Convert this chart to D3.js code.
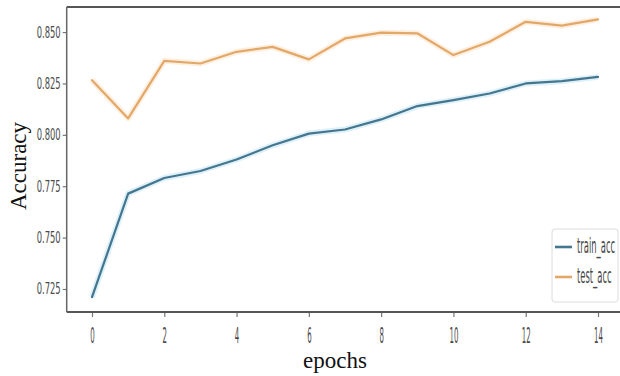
<!DOCTYPE html>
<html>
<head>
<meta charset="utf-8">
<script src="https://cdn.jsdelivr.net/npm/d3@7/dist/d3.min.js"></script>
<style>
html,body{margin:0;padding:0;background:#fff;overflow:hidden;}
svg{display:block;}
</style>
</head>
<body>
<svg id="chart" width="620" height="376"></svg>
<script>
const epochs = [0,1,2,3,4,5,6,7,8,9,10,11,12,13,14];
const trainAcc = [0.721,0.7714,0.779,0.7824,0.788,0.7949,0.8006,0.8026,0.8075,0.814,0.8169,0.8201,0.825,0.8261,0.8282];
const testAcc  = [0.8266,0.808,0.836,0.8347,0.8404,0.8428,0.8367,0.8469,0.8497,0.8494,0.8388,0.8453,0.855,0.8531,0.8562];
const xTicks = [0,2,4,6,8,10,12,14];
const yTicks = [0.725,0.750,0.775,0.800,0.825,0.850];
const seriesNames = ["train_acc","test_acc"];
const xLabel = "epochs";
const yLabel = "Accuracy";

const svg = d3.select("#chart");
const L = 66.7, R = 623.3, T = 7, B = 312;
const x = d3.scaleLinear().domain([-0.7, 14.7]).range([L, R]);
const y = d3.scaleLinear().domain([0.7138, 0.8622]).range([B, T]);

const tickColor = "#4a4a4a";

// Y axis
const yAxis = svg.append("g").attr("transform", `translate(${L},0)`)
  .call(d3.axisLeft(y).tickValues(yTicks).tickFormat(d3.format(".3f")).tickSize(4).tickPadding(5));
yAxis.select(".domain").remove();
yAxis.selectAll(".tick line").attr("stroke", "#777").attr("stroke-width", 1.2);
yAxis.selectAll(".tick text")
  .attr("x", null).attr("dy", null)
  .attr("transform", "translate(-6,5) scale(0.6,1.1)")
  .attr("font-family", "DejaVu Sans").attr("font-size", 14)
  .attr("fill", tickColor).attr("text-anchor", "end");

// X axis
const xAxis = svg.append("g").attr("transform", `translate(0,${B})`)
  .call(d3.axisBottom(x).tickValues(xTicks).tickFormat(d3.format("d")).tickSize(5).tickPadding(5));
xAxis.select(".domain").remove();
xAxis.selectAll(".tick line").attr("stroke", "#777").attr("stroke-width", 1.2);
xAxis.selectAll(".tick text")
  .attr("y", null).attr("dy", null)
  .attr("transform", "translate(0,31) scale(0.5,1.5)")
  .attr("font-family", "DejaVu Sans").attr("font-size", 14)
  .attr("fill", tickColor).attr("text-anchor", "middle");

// Lines
const line = d3.line().x((d,i) => x(epochs[i])).y(d => y(d));
const colors = ["#44768f", "#e3a867"];
const halos = ["#bfe3f2", "#fbe2c6"];
[trainAcc, testAcc].forEach((s, k) => {
  svg.append("path").datum(s).attr("d", line).attr("fill", "none")
    .attr("stroke", halos[k]).attr("stroke-width", 6).attr("stroke-opacity", 0.5)
    .attr("stroke-linejoin", "round");
  svg.append("path").datum(s).attr("d", line).attr("fill", "none")
    .attr("stroke", colors[k]).attr("stroke-width", 2.2)
    .attr("stroke-linejoin", "round").attr("stroke-linecap", "round");
});

// Spines
svg.append("line").attr("x1", L).attr("x2", 620).attr("y1", T).attr("y2", T)
  .attr("stroke", "#555").attr("stroke-width", 2);
svg.append("line").attr("x1", L).attr("x2", 620).attr("y1", B).attr("y2", B)
  .attr("stroke", "#555").attr("stroke-width", 2);
svg.append("line").attr("x1", L).attr("x2", L).attr("y1", T).attr("y2", B)
  .attr("stroke", "#666").attr("stroke-width", 1.5);

// Legend
const lg = svg.append("g");
lg.append("rect").attr("x", 552).attr("y", 229).attr("width", 66).attr("height", 73)
  .attr("rx", 3).attr("fill", "#fff").attr("stroke", "#dcdcdc").attr("stroke-width", 1);
seriesNames.forEach((name, k) => {
  const cy = 247 + k * 30;
  lg.append("line").attr("x1", 555).attr("x2", 572).attr("y1", cy).attr("y2", cy)
    .attr("stroke", colors[k]).attr("stroke-width", 2.6);
  lg.append("text").text(name)
    .attr("transform", `translate(577,${cy + 5.5}) scale(0.6,1.5)`)
    .attr("font-family", "DejaVu Sans").attr("font-size", 14)
    .attr("fill", tickColor);
});

// Axis labels
svg.append("text").text(xLabel)
  .attr("x", 335).attr("y", 368).attr("text-anchor", "middle")
  .attr("font-family", "Liberation Serif").attr("font-size", 23).attr("fill", "#111");
svg.append("text").text(yLabel)
  .attr("transform", "translate(26,166) rotate(-90)").attr("text-anchor", "middle")
  .attr("font-family", "Liberation Serif").attr("font-size", 23).attr("fill", "#111");
</script>
</body>
</html>
